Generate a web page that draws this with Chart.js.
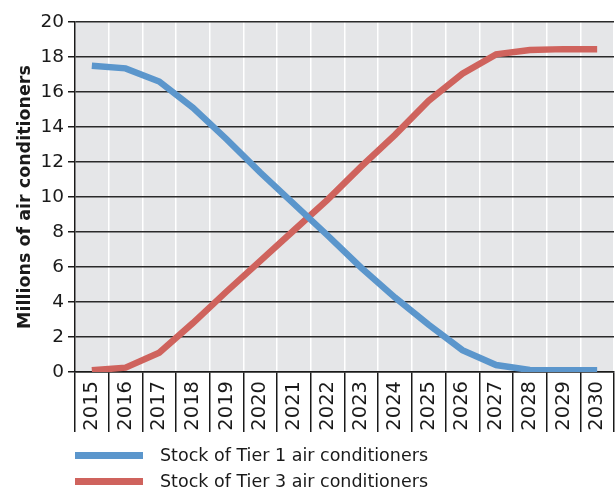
<!DOCTYPE html>
<html>
<head>
<meta charset="utf-8">
<script src="https://cdn.jsdelivr.net/npm/chart.js@4"></script>
<style>
  body { margin: 0; background: #fff; }
  #wrap { position: relative; width: 615px; height: 489px; }
  #legend { position: absolute; left: 75px; top: 442px; font-family: "DejaVu Sans", sans-serif; font-size: 17.5px; color: #1a1a1a; }
  .item { display: flex; align-items: center; height: 26px; }
  .swatch { width: 68px; height: 7px; margin-right: 17px; }
</style>
</head>
<body>
<div id="wrap">
  <canvas id="chart" width="615" height="489"></canvas>
  <div id="legend"></div>
</div>
<script>
// categories and series
const years = ['2015','2016','2017','2018','2019','2020','2021','2022','2023','2024','2025','2026','2027','2028','2029','2030'];
const tier1 = [17.5, 17.35, 16.6, 15.1, 13.3, 11.4, 9.6, 7.8, 5.95, 4.25, 2.7, 1.25, 0.4, 0.12, 0.1, 0.1];
const tier3 = [0.1, 0.25, 1.1, 2.8, 4.6, 6.35, 8.1, 9.85, 11.75, 13.55, 15.5, 17.05, 18.15, 18.4, 18.45, 18.45];
const seriesLabels = ['Stock of Tier 1 air conditioners', 'Stock of Tier 3 air conditioners'];
const seriesColors = ['#5b96cc', '#cf635d'];
const yTicks = [0, 2, 4, 6, 8, 10, 12, 14, 16, 18, 20];

// grey plot background
const plotBg = {
  id: 'plotBg',
  beforeDraw(chart) {
    const { ctx, chartArea: a } = chart;
    ctx.save();
    ctx.fillStyle = '#e5e6e8';
    ctx.fillRect(a.left, a.top, a.right - a.left, a.bottom - a.top);
    ctx.restore();
  }
};

const ctx = document.getElementById('chart').getContext('2d');
const chart = new Chart(ctx, {
  type: 'line',
  data: {
    labels: years,
    datasets: [
      { label: seriesLabels[0], data: tier1, borderColor: seriesColors[0], backgroundColor: seriesColors[0], borderWidth: 6.5, pointRadius: 0, fill: false, tension: 0 },
      { label: seriesLabels[1], data: tier3, borderColor: seriesColors[1], backgroundColor: seriesColors[1], borderWidth: 6.5, pointRadius: 0, fill: false, tension: 0 }
    ]
  },
  options: {
    responsive: false,
    animation: false,
    layout: { padding: { left: 0, right: 1, top: 22, bottom: 57 } },
    plugins: { legend: { display: false }, tooltip: { enabled: false } },
    scales: {
      x: {
        offset: true,
        grid: { offset: true, color: '#ffffff', lineWidth: 1.5, tickColor: '#1a1a1a', tickLength: 60, tickWidth: 1.5 },
        border: { color: '#1a1a1a', width: 1.5 },
        ticks: {
          minRotation: 90, maxRotation: 90, padding: -51, autoSkip: false,
          color: '#1a1a1a', font: { family: 'DejaVu Sans', size: 19.5 }
        },
        afterFit(s) { s.height = 60; }
      },
      y: {
        min: 0, max: 20,
        afterBuildTicks(s) { s.ticks = yTicks.map(v => ({ value: v })); },
        grid: { color: '#2a2a2a', lineWidth: 1.5, tickColor: '#1a1a1a', tickLength: 7 },
        border: { color: '#1a1a1a', width: 1.5 },
        ticks: { color: '#1a1a1a', padding: 4, font: { family: 'DejaVu Sans', size: 18.5 } },
        title: {
          display: true, text: 'Millions of air conditioners', color: '#1a1a1a',
          font: { family: 'DejaVu Sans', size: 17.5, weight: 'bold' }, padding: { top: 15, bottom: 0 }
        },
        afterFit(s) { s.width = 75; }
      }
    }
  },
  plugins: [plotBg]
});

// html legend, stacked like the reference
const legend = document.getElementById('legend');
chart.data.datasets.forEach(ds => {
  const row = document.createElement('div');
  row.className = 'item';
  const sw = document.createElement('span');
  sw.className = 'swatch';
  sw.style.background = ds.borderColor;
  const txt = document.createElement('span');
  txt.textContent = ds.label;
  row.appendChild(sw);
  row.appendChild(txt);
  legend.appendChild(row);
});
</script>
</body>
</html>
